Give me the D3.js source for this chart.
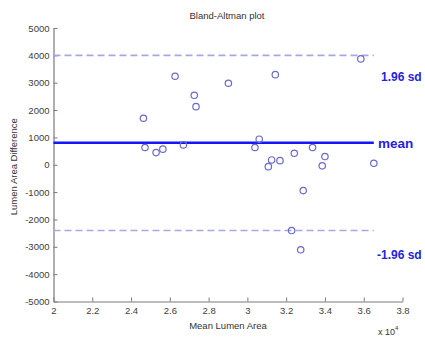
<!DOCTYPE html>
<html>
<head>
<meta charset="utf-8">
<script src="https://cdn.jsdelivr.net/npm/d3@7"></script>
<style>
  body { margin: 0; background: #fff; }
  text { font-family: "Liberation Sans", Arial, sans-serif; }
</style>
</head>
<body>
<svg id="chart" width="425" height="337"></svg>
<script>
// Mean lumen area (x 10^4)
const meanArea = [2.464, 2.472, 2.529, 2.564, 2.627, 2.670, 2.726, 2.735, 2.902, 3.039, 3.061, 3.144,
                  3.108, 3.125, 3.168, 3.228, 3.242, 3.275, 3.288, 3.336, 3.386, 3.400, 3.585, 3.652];
// Lumen area difference
const areaDiff = [1700, 630, 445, 570, 3235, 725, 2540, 2125, 2980, 630, 935, 3295,
                  -70, 175, 150, -2405, 420, -3110, -945, 630, -40, 300, 3870, 55];
const meanDiff = 800;
const upperLimit = 4000;
const lowerLimit = -2405;
const xTicks = [2, 2.2, 2.4, 2.6, 2.8, 3, 3.2, 3.4, 3.6, 3.8];
const yTicks = [-5000, -4000, -3000, -2000, -1000, 0, 1000, 2000, 3000, 4000, 5000];

const svg = d3.select("#chart");
const mL = 53.5, mR = 402.5, mT = 28, mB = 301.5;
const x = d3.scaleLinear().domain([2, 3.8]).range([mL, mR]);
const y = d3.scaleLinear().domain([-5000, 5000]).range([mB, mT]);

const axisColor = "#7a7a7a";
const textColor = "#404040";

// axes
const xAxis = svg.append("g").attr("transform", `translate(0,${mB})`)
  .call(d3.axisBottom(x).tickValues(xTicks).tickSizeInner(-4).tickSizeOuter(0).tickPadding(6)
        .tickFormat(d => String(+d.toFixed(1))));
const yAxis = svg.append("g").attr("transform", `translate(${mL},0)`)
  .call(d3.axisLeft(y).tickValues(yTicks).tickSizeInner(-4).tickSizeOuter(0).tickPadding(4)
        .tickFormat(d => String(d)));
[xAxis, yAxis].forEach(g => {
  g.select(".domain").attr("stroke", axisColor).attr("stroke-width", 1.2);
  g.selectAll(".tick line").attr("stroke", axisColor);
  g.selectAll(".tick text").attr("fill", textColor).style("font-size", "9.5px")
    .style("font-family", "'Liberation Sans', Arial, sans-serif");
});

const lineEnd = d3.max(meanArea);

// limit lines
[upperLimit, lowerLimit].forEach(v => {
  svg.append("line")
    .attr("x1", x(2)).attr("x2", x(lineEnd))
    .attr("y1", y(v)).attr("y2", y(v))
    .attr("stroke", "#a6a6ea").attr("stroke-width", 1.6)
    .attr("stroke-dasharray", "7,4");
});
// mean line
svg.append("line")
  .attr("x1", x(2)).attr("x2", x(lineEnd))
  .attr("y1", y(meanDiff)).attr("y2", y(meanDiff))
  .attr("stroke", "#1414ff").attr("stroke-width", 2.5);

// points
svg.append("g").selectAll("circle")
  .data(meanArea.map((m, i) => [m, areaDiff[i]]))
  .join("circle")
  .attr("cx", d => x(d[0])).attr("cy", d => y(d[1]))
  .attr("r", 3.2).attr("fill", "none")
  .attr("stroke", "#6a6acc").attr("stroke-width", 1.2);

// line labels
const lbl = [["1.96 sd", upperLimit, 381, 26, "12px"], ["mean", meanDiff, 378, 5, "13.5px"], ["-1.96 sd", lowerLimit, 377, 28, "12px"]];
lbl.forEach(([t, v, px, dy, fs]) => {
  svg.append("text").attr("x", px).attr("y", y(v) + dy)
    .attr("fill", "#2424e0").style("font-size", fs)
    .style("font-weight", "bold").text(t);
});

// title and labels
svg.append("text").attr("x", 227).attr("y", 19).attr("text-anchor", "middle")
  .attr("fill", "#333").style("font-size", "9.5px").text("Bland-Altman plot");
svg.append("text").attr("x", 228).attr("y", 329).attr("text-anchor", "middle")
  .attr("fill", "#333").style("font-size", "9.5px").text("Mean Lumen Area");
svg.append("text").attr("transform", `translate(17,${(mT + mB) / 2 + 2}) rotate(-90)`)
  .attr("text-anchor", "middle").attr("fill", "#333").style("font-size", "9.5px")
  .text("Lumen Area Difference");
const exp = svg.append("text").attr("x", 378).attr("y", 335).attr("fill", "#333").style("font-size", "9px");
exp.append("tspan").text("x 10");
exp.append("tspan").attr("dy", -5).style("font-size", "6px").text("4");
</script>
</body>
</html>
